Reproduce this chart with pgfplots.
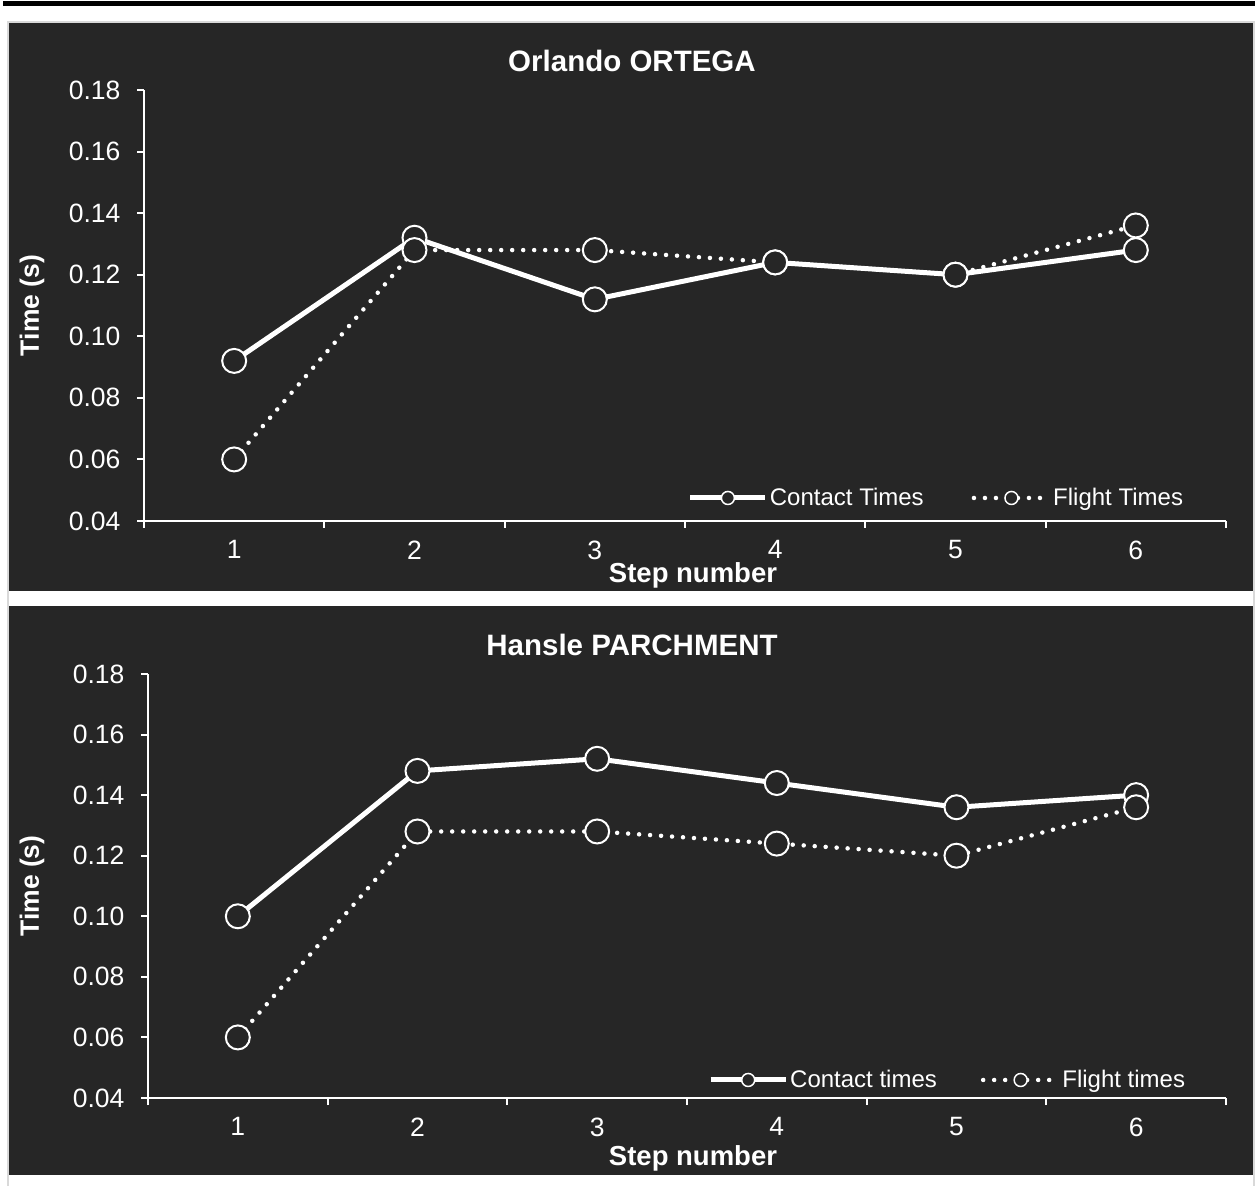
\documentclass[border=0pt]{standalone}
\usepackage{fontspec}
\setmainfont{Liberation Sans}
\usepackage{pgfplots}
\pgfplotsset{compat=1.18}
\definecolor{bg}{HTML}{262626}
\definecolor{framegray}{HTML}{D9D9D9}

\pgfplotsset{
  panel/.style={
    scale only axis, clip=false,
    xmin=0.5, xmax=6.5, ymin=0.04, ymax=0.18,
    axis x line*=bottom, axis y line*=left,
    axis line style={white, line width=2pt, -},
    xtick={0.5,1.5,2.5,3.5,4.5,5.5,6.5},
    xticklabels={1,2,3,4,5,6},
    x tick label as interval,
    ytick={0.04,0.06,0.08,0.10,0.12,0.14,0.16,0.18},
    yticklabel style={/pgf/number format/.cd, fixed, fixed zerofill, precision=2, /tikz/.cd, xshift=-13pt},
    xticklabel style={yshift=-9pt},
    tick style={white, line width=2pt},
    tick align=outside, major tick length=7pt,
    ticklabel style={font=\fontsize{26.5}{31}\selectfont, text=white},
    /pgf/number format/assume math mode=true,
    title style={font=\bfseries\fontsize{29.5}{35}\selectfont, text=white, anchor=center},
    xlabel style={font=\bfseries\fontsize{27.5}{33}\selectfont, text=white, anchor=center},
    every axis y label/.style={rotate=90, anchor=center, font=\bfseries\fontsize{26.5}{31}\selectfont, text=white},
    legend cell align=left,
    legend columns=2,
    legend image code/.code={
      \draw[##1, mark=none] (0pt,0pt) -- (75pt,0pt);
      \draw[##1, mark size=6.5pt, mark options={solid, fill=bg, draw=white, line width=1.5pt}] plot coordinates {(37.5pt,0pt)};
    },
  },
  contact/.style={white, line width=5pt, mark=*, mark size=12pt,
    mark options={solid, fill=bg, draw=white, line width=2pt}},
  flight/.style={white, line width=4.5pt, line cap=round, dash pattern=on 0pt off 11pt,
    mark=*, mark size=12pt, mark options={solid, fill=bg, draw=white, line width=2pt}},
}

\begin{document}
\begin{tikzpicture}[x=1pt, y=1pt]
\useasboundingbox (0,0) rectangle (1255,1186);
% page decoration
\fill[black] (3,1180) rectangle (1255,1185);
\fill[framegray] (7.3,0) rectangle (1255,1165);
\fill[white] (9,0) rectangle (1252.7,1163);
\fill[bg] (9,595) rectangle (1252.7,1163);
\fill[bg] (9,11) rectangle (1252.7,580);

% Panel 1
\begin{axis}[panel,
  at={(144pt,665pt)}, anchor=south west,
  width=1082pt, height=431pt,
  title={Orlando ORTEGA},
  title style={at={(axis description cs:0.451,1.053)}},
  xlabel={Step number},
  xlabel style={at={(axis description cs:0.5074,-0.126)}},
  ylabel={Time (s)},
  ylabel style={at={(axis description cs:-0.1035,0.5)}},
  legend style={draw=none, fill=none, text=white, font=\fontsize{24}{28}\selectfont,
    at={(axis description cs:0.5025,0.0534)}, anchor=west, inner sep=0pt,
    nodes={inner sep=2pt},
    /tikz/every even column/.append style={column sep=46pt}},
]
\addplot[contact] coordinates {(1,0.092) (2,0.132) (3,0.112) (4,0.124) (5,0.120) (6,0.128)};
\addlegendentry{Contact Times}
\addplot[flight] coordinates {(1,0.060) (2,0.128) (3,0.128) (4,0.124) (5,0.120) (6,0.136)};
\addlegendentry{Flight Times}
\end{axis}

% Panel 2
\begin{axis}[panel,
  at={(148pt,88pt)}, anchor=south west,
  width=1078pt, height=424pt,
  title={Hansle PARCHMENT},
  title style={at={(axis description cs:0.449,1.054)}},
  xlabel={Step number},
  xlabel style={at={(axis description cs:0.5056,-0.142)}},
  ylabel={Time (s)},
  ylabel style={at={(axis description cs:-0.1076,0.5)}},
  legend style={draw=none, fill=none, text=white, font=\fontsize{24}{28}\selectfont,
    at={(axis description cs:0.5195,0.0425)}, anchor=west, inner sep=0pt,
    nodes={inner sep=2pt},
    /tikz/every even column/.append style={column sep=42pt}},
]
\addplot[contact] coordinates {(1,0.100) (2,0.148) (3,0.152) (4,0.144) (5,0.136) (6,0.140)};
\addlegendentry{Contact times}
\addplot[flight] coordinates {(1,0.060) (2,0.128) (3,0.128) (4,0.124) (5,0.120) (6,0.136)};
\addlegendentry{Flight times}
\end{axis}
\end{tikzpicture}
\end{document}
